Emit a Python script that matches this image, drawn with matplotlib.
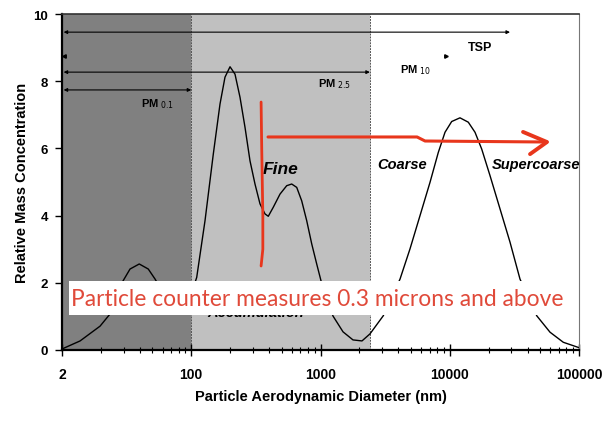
import matplotlib
matplotlib.use("Agg")
import matplotlib.pyplot as plt
from matplotlib.patches import Rectangle

plt.rcParams['font.family'] = ['Liberation Sans', 'DejaVu Sans']

# ---- data ----
diameter_nm = [10, 13.8, 19.7, 23.5, 26.5, 29.6, 33.6, 39.6, 46.5, 52.5, 62.7, 78.9, 97.7,
               110.2, 127.8, 148.1, 166.9, 182.4, 199.5, 218.0, 238.4, 260.5, 284.8,
               311.3, 340.3, 372.1, 394.6, 431.3, 486.1, 547.7, 598.8, 654.6, 715.4,
               782.0, 855.0, 934.6, 1009, 1120, 1250, 1494, 1784, 2094, 2415, 3061,
               4123, 4926, 5888, 7035, 8154, 9189, 10350, 12000, 13913, 15684, 17671,
               20489, 24484, 29256, 34958, 47081, 59665, 75582, 100000]
rel_mass = [0.03, 0.27, 0.71, 1.07, 1.58, 2.05, 2.41, 2.56, 2.41, 2.11, 1.60, 1.30, 1.55,
            2.16, 3.85, 5.83, 7.32, 8.12, 8.43, 8.21, 7.52, 6.63, 5.63,
            4.94, 4.35, 4.05, 3.98, 4.25, 4.64, 4.89, 4.94, 4.84, 4.44,
            3.85, 3.16, 2.56, 2.06, 1.50, 1.01, 0.54, 0.30, 0.27, 0.48, 1.02,
            2.11, 3.01, 4.00, 4.99, 5.88, 6.48, 6.80, 6.91, 6.78, 6.48, 5.98,
            5.19, 4.20, 3.21, 2.11, 1.02, 0.53, 0.23, 0.07]

xtick_values = [10, 100, 1000, 10000, 100000]
xtick_labels = ['2', '100', '1000', '10000', '100000']
ytick_values = [0, 2, 4, 6, 8, 10]

ultrafine_range = (10, 100)
fine_range = (100, 2410)

size_fractions = ['TSP', 'PM10', 'PM2.5', 'PM0.1']
fraction_upper_nm = [29250, 9360, 2410, 100]
fraction_level = [9.46, 8.75, 8.27, 7.74]

# ---- figure ----
fig = plt.figure(figsize=(6.02, 4.27), dpi=100)
W, H = 602, 427
ax = fig.add_axes([62 / W, 1 - 351 / H, (579 - 62) / W, (351 - 15) / H])

ax.set_xscale('log')
ax.set_xlim(10, 100000)
ax.set_ylim(0, 10)

ax.axvspan(*ultrafine_range, color='#808080', zorder=0, lw=0)
ax.axvspan(*fine_range, color='#c0c0c0', zorder=0, lw=0)
for xb in (ultrafine_range[1], fine_range[1]):
    ax.axvline(xb, color='#555555', lw=0.7, ls=(0, (2, 1)), zorder=1)

ax.plot(diameter_nm, rel_mass, color='black', lw=1.0, zorder=3,
        solid_joinstyle='round')

# size-fraction arrows
ak = dict(arrowstyle='<|-|>', color='black', lw=0.8, mutation_scale=5,
          shrinkA=0, shrinkB=0)
ax.annotate('', xy=(fraction_upper_nm[0], fraction_level[0]), xytext=(10.3, fraction_level[0]),
            arrowprops=ak, zorder=4)
ax.plot([10.4], [fraction_level[1]], marker='<', color='black', ms=2.5)
ax.plot([fraction_upper_nm[1]], [fraction_level[1]], marker='>', color='black', ms=2.5)
ax.annotate('', xy=(fraction_upper_nm[2], fraction_level[2]), xytext=(10.3, fraction_level[2]),
            arrowprops=ak, zorder=4)
ax.annotate('', xy=(fraction_upper_nm[3], fraction_level[3]), xytext=(10.3, fraction_level[3]),
            arrowprops=ak, zorder=4)

fb = dict(fontweight='bold', color='black', ha='left', va='center')
ax.text(13840, 9.02, 'TSP', fontsize=9, **fb)
ax.text(4120, 8.36, r'PM$_{\ 10}$', fontsize=8, **fb)
ax.text(957, 7.93, r'PM$_{\ 2.5}$', fontsize=8, **fb)
ax.text(40.8, 7.35, r'PM$_{\ 0.1}$', fontsize=8, **fb)

ax.text(355, 5.39, 'Fine', fontsize=12.5, fontweight='bold', style='italic',
        ha='left', va='center')
ax.text(2735, 5.54, 'Coarse', fontsize=10.5, fontweight='bold', style='italic',
        ha='left', va='center')
ax.text(21230, 5.54, 'Supercoarse', fontsize=10.5, fontweight='bold', style='italic',
        ha='left', va='center')
ax.text(317, 1.12, 'Accumulation', fontsize=10.5, fontweight='bold', style='italic',
        ha='center', va='center', zorder=4)

# red hand-drawn annotation
red = '#e8361c'
ax.plot([347, 351, 358, 358, 347], [7.38, 5.98, 3.99, 3.0, 2.5], color=red, lw=2.0,
        solid_capstyle='round', zorder=6)
ax.plot([392.6, 5585, 6440, 56500], [6.34, 6.34, 6.22, 6.19], color=red, lw=2.2,
        solid_capstyle='round', zorder=6)
ax.plot([36900, 56500, 41800], [6.49, 6.19, 5.83], color=red, lw=2.8,
        solid_capstyle='round', solid_joinstyle='round', zorder=6)

# white box with red text
bx0, bx1, by0, by1 = 69, 572, 282, 316
ax.add_patch(Rectangle(((bx0 - 62) / 517, (351 - by1) / 336), (bx1 - bx0) / 517,
                       (by1 - by0) / 336, transform=ax.transAxes, facecolor='white',
                       edgecolor='none', zorder=7, clip_on=False))
ax.text((71 - 62) / 517, (351 - 299) / 336, 'Particle counter measures 0.3 microns and above',
        transform=ax.transAxes, fontsize=16.4, color='#e04a3a', family='Lato',
        ha='left', va='center', zorder=8)

# axes styling
ax.set_xticks(xtick_values)
ax.set_xticklabels(xtick_labels)
ax.set_yticks(ytick_values)
for lab in ax.get_xticklabels() + ax.get_yticklabels():
    lab.set_fontweight('bold')
ax.tick_params(axis='x', which='major', direction='inout', length=8, width=1, labelsize=10, pad=8)
ax.tick_params(axis='x', which='minor', direction='inout', length=5, width=0.8)
ax.tick_params(axis='y', direction='out', length=5, width=1, labelsize=9.5, pad=5)

ax.spines['left'].set_linewidth(1.6)
ax.spines['bottom'].set_linewidth(1.6)
ax.spines['top'].set_linewidth(1.2)
ax.spines['top'].set_color('#333333')
ax.spines['right'].set_linewidth(0.8)
ax.spines['right'].set_color('#777777')

ax.set_xlabel('Particle Aerodynamic Diameter (nm)', fontsize=10.5, fontweight='bold', labelpad=6)
ax.set_ylabel('Relative Mass Concentration', fontsize=10.5, fontweight='bold', labelpad=3)

fig.savefig('out.png', dpi=100)
